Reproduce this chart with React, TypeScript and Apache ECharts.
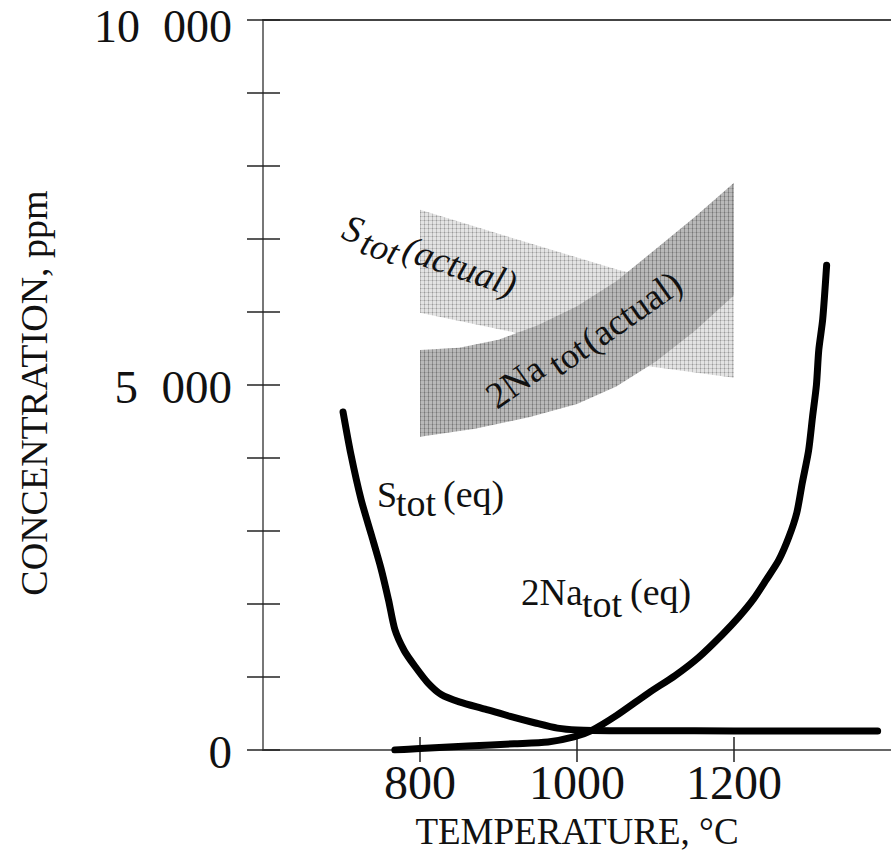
import React, { useEffect, useRef } from "react";
import * as echarts from "echarts";

// ---- data ----
const xTickValues = [800, 1000, 1200];
const yLabelValues = [0, 5000, 10000];
const yLabelTexts = ["0", "5\u2002000", "10\u2002000"];

const sTotEq: [number, number][] = [
  [702, 4630], [712, 4050], [725, 3430], [738, 2950], [750, 2500], [760, 2050],
  [768, 1650], [780, 1360], [794, 1140], [810, 920], [827, 760], [850, 660],
  [883, 560], [915, 460], [947, 370], [975, 300], [1000, 275], [1050, 265],
  [1150, 262], [1250, 260], [1383, 260],
];

const naTotEq: [number, number][] = [
  [768, 0], [800, 20], [861, 55], [920, 85], [963, 110], [996, 180], [1019, 270],
  [1050, 470], [1091, 780], [1125, 1020], [1155, 1270], [1185, 1580], [1206, 1820],
  [1225, 2070], [1241, 2330], [1257, 2600], [1270, 2920], [1280, 3250], [1287, 3660],
  [1295, 4100], [1300, 4560], [1305, 5000], [1308, 5480], [1313, 5900], [1318, 6640],
];

const sActualTop: [number, number][] = [
  [800, 7400], [925, 6990], [1053, 6575], [1130, 6380], [1200, 6230],
];
const sActualBottom: [number, number][] = [
  [800, 5990], [925, 5710], [1000, 5480], [1082, 5270], [1200, 5100],
];
const naActualTop: [number, number][] = [
  [800, 5480], [850, 5510], [900, 5620], [950, 5820], [1000, 6080], [1050, 6420],
  [1100, 6860], [1150, 7300], [1200, 7770],
];
const naActualBottom: [number, number][] = [
  [800, 4290], [870, 4400], [940, 4560], [1000, 4740], [1050, 4980], [1100, 5320],
  [1150, 5740], [1200, 6230],
];

const FONT = '"Liberation Serif", "Times New Roman", serif';

function makePattern(bg: string, col: string, row: string, dot: string): any {
  const c = document.createElement("canvas");
  c.width = 4;
  c.height = 4;
  const g = c.getContext("2d")!;
  g.fillStyle = bg;
  g.fillRect(0, 0, 4, 4);
  g.fillStyle = col;
  g.fillRect(0, 0, 1, 4);
  g.fillStyle = row;
  g.fillRect(0, 0, 4, 1);
  g.fillStyle = dot;
  g.fillRect(0, 0, 1, 1);
  return { image: c, repeat: "repeat" };
}

function bandSeries(top: [number, number][], bottom: [number, number][], fill: any, z: number) {
  return {
    type: "custom",
    xAxisIndex: 0,
    yAxisIndex: 0,
    z,
    silent: true,
    data: top,
    encode: { x: 0, y: 1 },
    renderItem: (params: any, api: any) => {
      if (params.dataIndex !== 0) return null;
      const pts = top
        .map((p) => api.coord(p))
        .concat(bottom.slice().reverse().map((p) => api.coord(p)));
      return { type: "polygon", shape: { points: pts }, style: { fill, stroke: null } };
    },
  };
}

function txt(text: string, x: number, baseline: number, fs: number, italic = false) {
  return {
    type: "text",
    x,
    y: baseline - 0.34 * fs,
    z: 100,
    style: {
      text,
      fontSize: fs,
      fontFamily: FONT,
      fontStyle: italic ? "italic" : "normal",
      fill: "#111",
      align: "left",
      verticalAlign: "middle",
    },
  };
}

export default function App() {
  const ref = useRef<HTMLDivElement>(null);
  useEffect(() => {
    document.body.style.margin = "0";
    const chart = echarts.init(ref.current!, null, { renderer: "svg" });
    const axisCommon = { min: 600, max: 1400, interval: 200 };
    const yCommon = { min: 0, max: 10000, interval: 1000 };
    const lightFill = makePattern("#e3e3e3", "#bdbdbd", "#c6c6c6", "#9a9a9a");
    const darkFill = makePattern("#b9b9b9", "#8e8e8e", "#a2a2a2", "#777777");
    chart.setOption({
      animation: false,
      backgroundColor: "#fff",
      grid: { left: 263, right: 0, top: 20, bottom: 106, containLabel: false, outerBoundsMode: "none" },
      xAxis: [
        {
          type: "value",
          position: "bottom",
          ...axisCommon,
          name: "TEMPERATURE, °C",
          nameLocation: "middle",
          nameGap: 63,
          nameTextStyle: { fontFamily: FONT, fontSize: 37, color: "#111" },
          axisLine: { show: true, lineStyle: { color: "#666", width: 2 } },
          axisTick: { show: true, inside: false, length: 12, customValues: xTickValues, lineStyle: { color: "#222", width: 1.5 } },
          axisLabel: {
            show: true,
            customValues: xTickValues,
            margin: 8,
            fontFamily: FONT,
            fontSize: 48,
            color: "#111",
            formatter: (v: number) => (xTickValues.indexOf(v) >= 0 ? String(v) : ""),
          },
          splitLine: { show: false },
        },
        {
          type: "value",
          position: "bottom",
          ...axisCommon,
          axisLine: { show: false },
          axisTick: { show: true, inside: true, length: 13, customValues: xTickValues, lineStyle: { color: "#222", width: 1.5 } },
          axisLabel: { show: false },
          splitLine: { show: false },
        },
        {
          type: "value",
          position: "top",
          ...axisCommon,
          axisLine: { show: true, lineStyle: { color: "#444", width: 2 } },
          axisTick: { show: false },
          axisLabel: { show: false },
          splitLine: { show: false },
        },
      ],
      yAxis: [
        {
          type: "value",
          position: "left",
          ...yCommon,
          name: "CONCENTRATION, ppm",
          nameLocation: "middle",
          nameGap: 210,
          nameTextStyle: { fontFamily: FONT, fontSize: 38, color: "#111", padding: [0, 16, 0, 0] },
          axisLine: { show: true, lineStyle: { color: "#777", width: 2 } },
          axisTick: { show: true, inside: false, length: 16, lineStyle: { color: "#222", width: 1.5 } },
          axisLabel: {
            show: true,
            customValues: yLabelValues,
            margin: 31,
            fontFamily: FONT,
            fontSize: 47,
            padding: [3, 0, 0, 0],
            color: "#111",
            formatter: (v: number) => {
              const i = yLabelValues.indexOf(v);
              if (i < 0) return "";
              return v === 10000 ? "{top|" + yLabelTexts[i] + "}" : yLabelTexts[i];
            },
            rich: {
              top: { fontFamily: FONT, fontSize: 46, color: "#111", padding: [10, 0, 0, 0] },
            },
          },
          splitLine: { show: false },
        },
        {
          type: "value",
          position: "left",
          ...yCommon,
          axisLine: { show: false },
          axisTick: { show: true, inside: true, length: 17, lineStyle: { color: "#222", width: 1.5 } },
          axisLabel: { show: false },
          splitLine: { show: false },
        },
      ],
      series: [
        bandSeries(sActualTop, sActualBottom, lightFill, 1),
        bandSeries(naActualTop, naActualBottom, darkFill, 2),
        {
          type: "line",
          name: "S_tot(eq)",
          data: sTotEq,
          symbol: "none",
          smooth: 0.25,
          z: 5,
          lineStyle: { color: "#000", width: 7, cap: "round", join: "round" },
        },
        {
          type: "line",
          name: "2Na_tot(eq)",
          data: naTotEq,
          symbol: "none",
          smooth: 0.25,
          z: 5,
          lineStyle: { color: "#000", width: 7, cap: "round", join: "round" },
        },
      ],
      graphic: [
        {
          type: "group",
          z: 100,
          children: [
            txt("S", 377, 507, 36),
            txt("tot", 396, 516, 38),
            txt("(eq)", 443, 507, 38),
            txt("2Na", 521, 605, 37),
            txt("tot", 582, 617, 38),
            txt("(eq)", 630, 605, 38),
          ],
        },
        {
          type: "group",
          x: 340,
          y: 238,
          z: 100,
          rotation: (-19 * Math.PI) / 180,
          children: [txt("S", 0, 0, 38, true), txt("tot", 22, 8, 36, true), txt("(actual)", 64, 0, 37, true)],
        },
        {
          type: "group",
          x: 497,
          y: 410,
          z: 100,
          rotation: (35 * Math.PI) / 180,
          children: [txt("2Na", 0, 0, 37), txt("tot", 70, 9, 36), txt("(actual)", 110, 9, 37)],
        },
      ],
    });
    return () => chart.dispose();
  }, []);
  return <div ref={ref} style={{ width: 891, height: 856 }} />;
}
